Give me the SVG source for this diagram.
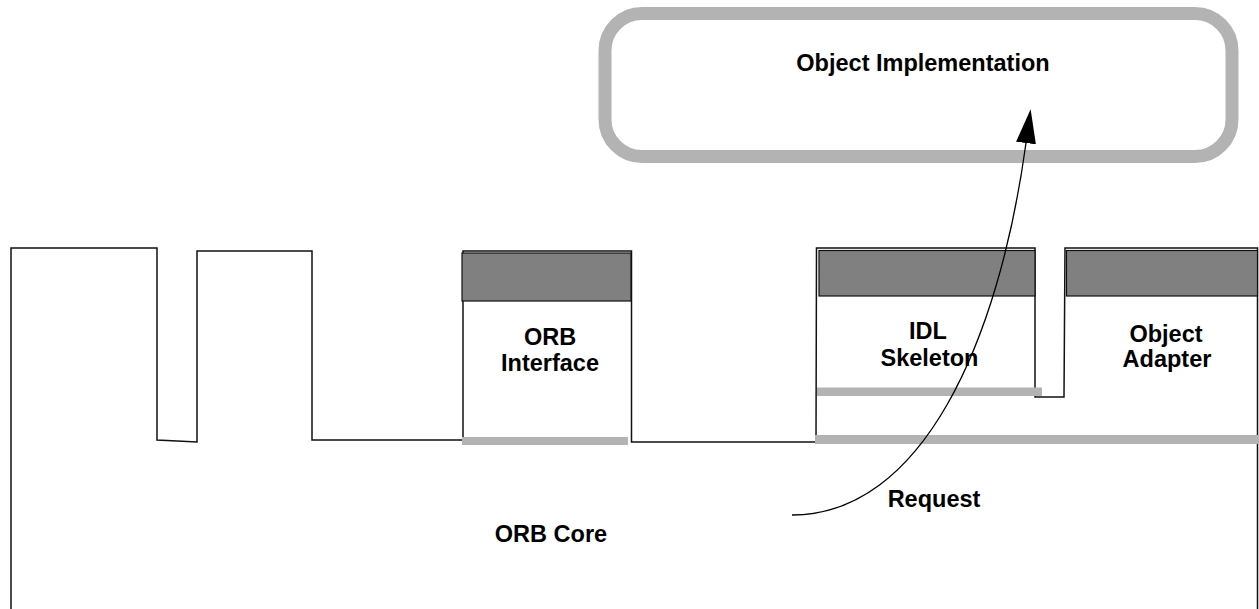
<svg xmlns="http://www.w3.org/2000/svg" width="1259" height="609" viewBox="0 0 1259 609">
<style>
.lbl{font-family:"Liberation Sans",Arial,sans-serif;font-weight:bold;font-size:23.5px;fill:#000;text-anchor:middle}
.hdr{fill:#808080;stroke:#111;stroke-width:1.2}
.bar{fill:#b3b3b3}
.outline{fill:none;stroke:#111;stroke-width:1.5;stroke-linejoin:miter}
</style>
<defs>
<marker id="ah" markerUnits="userSpaceOnUse" viewBox="0 0 34 20" refX="0" refY="10" markerWidth="34" markerHeight="20" orient="auto">
<path d="M0,0 L34,10 L0,20 z" fill="#000"/>
</marker>
</defs>
<rect width="1259" height="609" fill="#fff"/>
<g id="object-implementation">
<rect x="605" y="13.5" width="627" height="143" rx="37" ry="37" fill="none" stroke="#b3b3b3" stroke-width="13"/>
<text class="lbl" x="923" y="70.5">Object Implementation</text>
</g>
<g id="orb-core">
<path class="outline" d="M11,612 L11,248 L157,248 L157,440 L197,442 L197,251 L312,251 L312,440 L463,440 L463,251 L631.5,251 L631.5,442 L816,442 L816.5,248 L1035,248 L1035,397 L1064,397 L1065,248 L1257.5,248 L1257.5,612"/>
<text class="lbl" x="551" y="541.5">ORB Core</text>
</g>
<g id="orb-interface">
<rect class="hdr" x="462" y="253" width="169" height="48"/>
<rect class="bar" x="462" y="437" width="166" height="8"/>
<text class="lbl" x="550" y="345">ORB</text>
<text class="lbl" x="550" y="370.5">Interface</text>
</g>
<g id="idl-skeleton">
<rect class="hdr" x="819" y="250.5" width="216" height="45.5"/>
<rect class="bar" x="817" y="387.5" width="225" height="8.5"/>
<text class="lbl" x="928" y="339">IDL</text>
<text class="lbl" x="929.5" y="366">Skeleton</text>
</g>
<g id="object-adapter">
<rect class="hdr" x="1066.5" y="250.5" width="191" height="45.5"/>
<text class="lbl" x="1166" y="341.5">Object</text>
<text class="lbl" x="1167" y="367">Adapter</text>
</g>
<g id="long-bar">
<rect class="bar" x="815" y="435" width="444" height="9"/>
</g>
<g id="connectors">
<path d="M792,515 C922,515 998.6,343 1026,143" fill="none" stroke="#000" stroke-width="1.3" marker-end="url(#ah)"/>
<text class="lbl" x="934" y="506.5">Request</text>
</g>
</svg>
